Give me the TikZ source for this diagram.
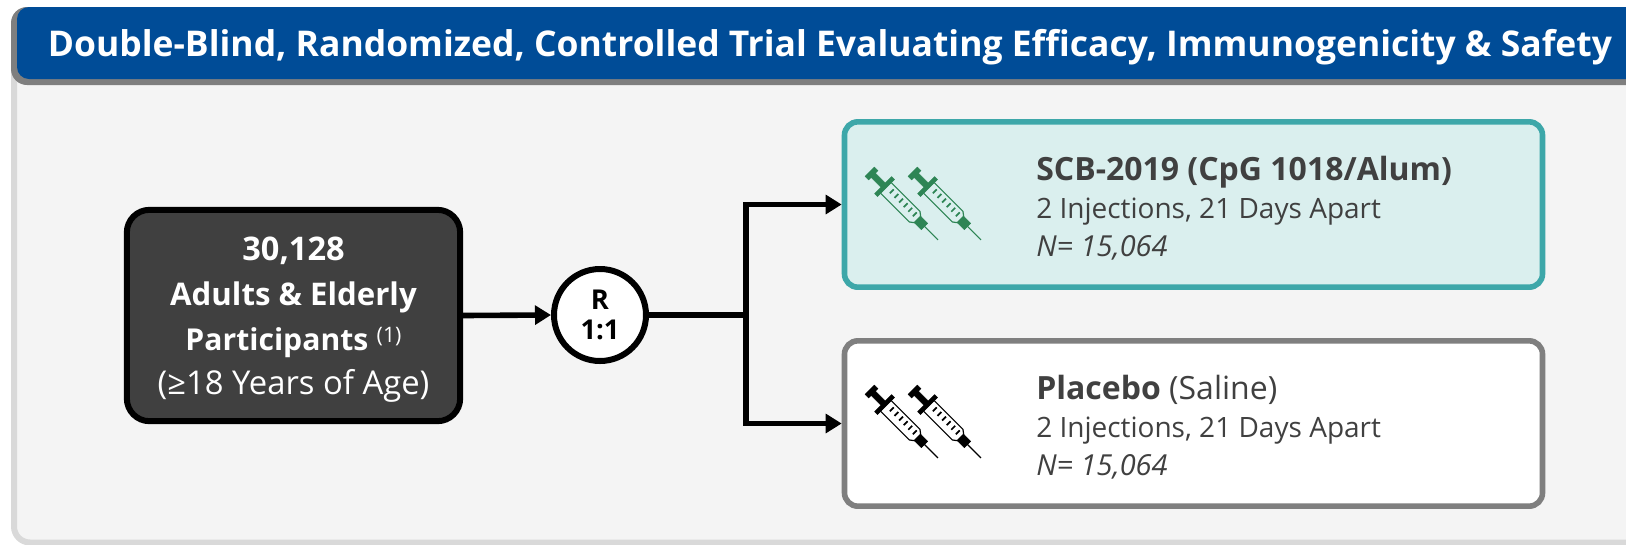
\documentclass[tikz,border=0pt]{standalone}
\usepackage{fontspec}
\setmainfont{Open Sans}
\usetikzlibrary{arrows.meta}
\definecolor{ink}{HTML}{404040}
\definecolor{navy}{HTML}{004C97}
\definecolor{hdredge}{HTML}{7F7F7F}
\definecolor{panelfill}{HTML}{F4F4F4}
\definecolor{paneledge}{HTML}{D9D9D9}
\definecolor{teal}{HTML}{3DA7A9}
\definecolor{tealfill}{HTML}{DAEFEE}
\definecolor{synggreen}{HTML}{2E8555}
\tikzset{
  x=0.75pt,y=-0.75pt,
  armbox/.style={draw,line width=4.2pt,rounded corners=10pt,inner sep=0pt,minimum width=523.5pt,minimum height=124pt},
  armtext/.style={anchor=west,align=left,text=ink,font=\fontsize{21}{28.5}\selectfont,inner sep=0pt},
  link/.style={line width=4.2pt,black},
  arrowlink/.style={link,-{Triangle[length=12pt,width=14pt]}},
  syringe/.pic={
    \begin{scope}[rotate=-45]
      \fill[pic actions] (-2.5,-6.5) rectangle (2.5,6.5);
      \fill[pic actions] (0,-3) rectangle (17,3);
      \fill[pic actions] (16.5,-12) rectangle (20.5,12);
      \draw[pic actions,fill=none,line width=0.9pt] (20.5,-7.5) -- (61,-7.5) -- (65,-4.5) -- (65,4.5) -- (61,7.5) -- (20.5,7.5);
      \foreach \s in {27,33.5,40,46.5,53,59.5}
        \draw[pic actions,line width=1.3pt] (\s,-4.5) -- (\s,1);
      \fill[pic actions] (65,-4.5) rectangle (75,4.5);
      \draw[pic actions,line width=0.8pt] (74,0) -- (94,0);
    \end{scope}
  }
}
\begin{document}
\begin{tikzpicture}
  \useasboundingbox (0,0) rectangle (1626,544);
  \fill[white] (0,0) rectangle (1626,544);
  \clip (0,0) rectangle (1626,544);
  % panel
  \draw[paneledge,fill=panelfill,line width=4.5pt,rounded corners=12pt] (14,20) rectangle (1660,542.5);
  % header
  \fill[hdredge,rounded corners=12pt] (11,7) rectangle (1660,85);
  \fill[navy,rounded corners=9pt] (17,7) rectangle (1660,79);
  \fill[navy] (40,7) rectangle (1660,30);
  \node[text=white,inner sep=0pt,font=\fontsize{26.6}{33}\selectfont\bfseries] (title) at (830,47) {Double-Blind, Randomized, Controlled Trial Evaluating Efficacy, Immunogenicity \& Safety};
  % left box
  \node[draw=black,fill=ink,line width=4.5pt,rounded corners=17pt,minimum width=250pt,minimum height=158.5pt,inner sep=0pt] (pop) at (293.5,315.5) {};
  \node[text=white,inner sep=0pt,align=center,font=\fontsize{24}{33.5}\selectfont] (poptext) at (293.5,320)
    {{\fontsize{24.4}{33.5}\selectfont\bfseries 30,128}\\{\fontsize{23.4}{33.5}\selectfont\bfseries Adults \& Elderly}\\{\fontsize{22.6}{33.5}\selectfont\bfseries Participants} \raisebox{5.5pt}{\fontsize{16}{18}\selectfont(1)}\\{\fontsize{24.6}{33.5}\selectfont(≥18 Years of Age)}};
  % randomiser
  \node[circle,draw=black,fill=white,line width=4.5pt,minimum size=69pt,inner sep=0pt,align=center,text=black,font=\fontsize{20.5}{23}\selectfont\bfseries] (rand) at (600,315) {R\\1:1};
  % arms
  \node[armbox,draw=teal,fill=tealfill] (active) at (1193.5,204.5) {};
  \node[armbox,draw=hdredge,fill=white] (placebo) at (1193.5,423.5) {};
  \node[armtext] (activetext) at (1036,208) {{\fontsize{24}{28.5}\selectfont\bfseries SCB-2019 (CpG 1018/Alum)}\\2 Injections, 21 Days Apart\\{\fontsize{21.7}{28.5}\selectfont\itshape N= 15,064}};
  \node[armtext] (placebotext) at (1036,427) {{\fontsize{24}{28.5}\selectfont\textbf{Placebo} (Saline)}\\2 Injections, 21 Days Apart\\{\fontsize{21.7}{28.5}\selectfont\itshape N= 15,064}};
  % connectors
  \coordinate (split) at (746,315);
  \draw[arrowlink] (pop.east) -- (rand.west);
  \draw[link] (rand.east) -- (split);
  \draw[arrowlink] (split) |- (active.west);
  \draw[arrowlink] (split) |- (placebo.west);
  % syringes
  \pic[synggreen,fill=synggreen,draw=synggreen] at (871.5,173.5) {syringe};
  \pic[synggreen,fill=synggreen,draw=synggreen] at (914.5,173.5) {syringe};
  \pic[black,fill=black,draw=black] at (871.5,391.5) {syringe};
  \pic[black,fill=black,draw=black] at (914.5,391.5) {syringe};
\end{tikzpicture}
\end{document}
